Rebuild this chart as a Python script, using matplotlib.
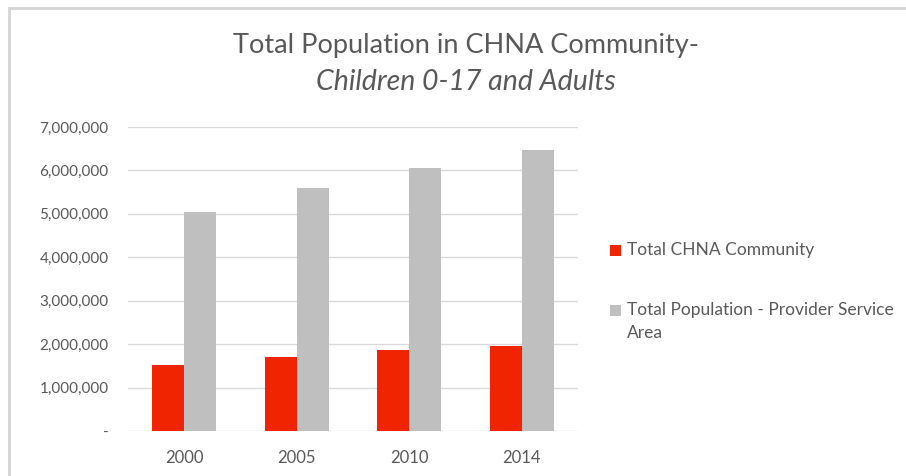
import matplotlib.pyplot as plt
import numpy as np
from matplotlib.patches import Rectangle

# DATOS
anios = ["2000", "2005", "2010", "2014"]
chna = [1510000, 1700000, 1870000, 1960000]
area_total = [5050000, 5600000, 6060000, 6480000]
etiquetas = ["Total CHNA Community", "Total Population - Provider Service\nArea"]

plt.rcParams['font.family'] = ['Lato', 'DejaVu Sans']

W, H = 906, 476
fig = plt.figure(figsize=(W/100, H/100), dpi=100)
ax = fig.add_axes([128/W, 1-431/H, 450/W, 304/H])

x = np.arange(len(anios))
w = 0.284
b1 = ax.bar(x - w/2, chna, w, color="#F02400", label=etiquetas[0])
b2 = ax.bar(x + w/2, area_total, w, color="#BFBFBF", label=etiquetas[1])

ax.set_xlim(-0.5, 3.5)
ax.set_ylim(0, 7000000)
ax.set_yticks(range(0, 7000001, 1000000))
ax.set_yticklabels(["-"] + ["{:,}".format(v) for v in range(1000000, 7000001, 1000000)])
ax.set_xticks(x)
ax.set_xticklabels(anios)
ax.tick_params(length=0, labelsize=11, colors="#595959")
ax.tick_params(axis='y', pad=14)
ax.tick_params(axis='x', pad=14, labelsize=12)
ax.grid(axis='y', color="#D9D9D9", lw=1)
ax.set_axisbelow(True)
for s in ax.spines.values():
    s.set_visible(False)

# TITULO
fig.text(466/W, 1-45/H, "Total Population in CHNA Community-", ha='center', va='center',
         fontsize=19.5, color="#595959")
fig.text(466/W, 1-82/H, "Children 0-17 and Adults", ha='center', va='center',
         fontsize=20.5, color="#595959", style='italic')

# LEYENDA (manual, cuadro alineado con la primera linea)
for barras, etiqueta, y0 in zip([b1, b2], etiquetas, [250, 310]):
    fig.patches.append(Rectangle((610/W, 1-(y0+5.5)/H), 11/W, 11/H, transform=fig.transFigure,
                                 facecolor=barras.patches[0].get_facecolor(), edgecolor='none'))
    for i, linea in enumerate(etiqueta.split("\n")):
        fig.text(627/W, 1-(y0+i*23.5)/H, linea, ha='left', va='center', fontsize=12.5, color="#595959")

# MARCO
fig.patches.append(Rectangle((9/W, -0.1), 1.2, 1-8/H+0.1, transform=fig.transFigure,
                             fill=False, edgecolor="#D4D4D4", lw=2))

fig.savefig("out.png", dpi=100)
